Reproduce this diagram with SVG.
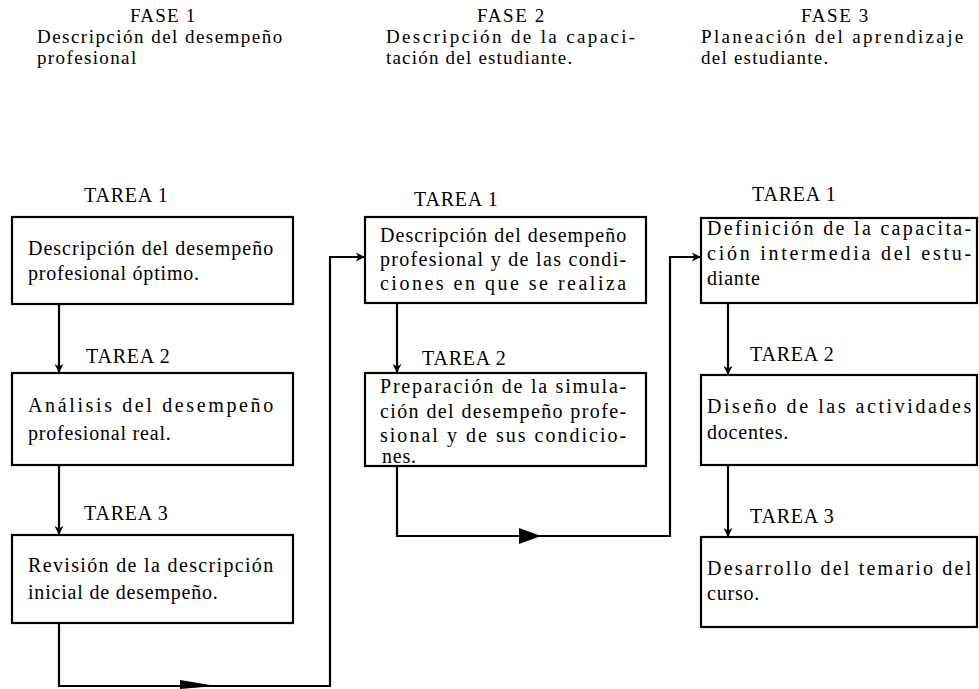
<svg xmlns="http://www.w3.org/2000/svg" width="979" height="689" viewBox="0 0 979 689">
<defs>
<style>
text{font-family:"Liberation Serif","DejaVu Serif","Times New Roman",serif;font-size:20px;fill:#000;letter-spacing:0.8px}
.hd{font-size:19px}
.box{fill:#fff;stroke:#000;stroke-width:2.2}
.ln{fill:none;stroke:#000;stroke-width:2.2}
.big{fill:#000;stroke:none}
</style>
<marker id="ah" viewBox="0 0 10 10" refX="9" refY="5" markerWidth="9" markerHeight="9" markerUnits="userSpaceOnUse" orient="auto">
<path d="M0,0 L10,5 L0,10 L3,5 Z" fill="#000"/>
</marker>
</defs>

<g id="headers">
<text class="hd" x="130" y="22" textLength="66" lengthAdjust="spacing">FASE 1</text>
<text class="hd" x="37" y="43" textLength="246" lengthAdjust="spacing">Descripción del desempeño</text>
<text class="hd" x="37" y="64" textLength="100" lengthAdjust="spacing">profesional</text>
<text class="hd" x="477" y="22" textLength="68" lengthAdjust="spacing">FASE 2</text>
<text class="hd" x="386" y="43" textLength="250" lengthAdjust="spacing">Descripción de la capaci-</text>
<text class="hd" x="386" y="64" textLength="187" lengthAdjust="spacing">tación del estudiante.</text>
<text class="hd" x="801" y="22" textLength="68" lengthAdjust="spacing">FASE 3</text>
<text class="hd" x="701" y="43" textLength="263" lengthAdjust="spacing">Planeación del aprendizaje</text>
<text class="hd" x="701" y="64" textLength="128" lengthAdjust="spacing">del estudiante.</text>
</g>

<g id="f1t1">
<text x="84" y="202">TAREA 1</text>
<rect class="box" x="12" y="217" width="281" height="87"/>
<text x="28" y="255" textLength="246" lengthAdjust="spacing">Descripción del desempeño</text>
<text x="28" y="280">profesional óptimo.</text>
</g>
<g id="f1t2">
<text x="86" y="363">TAREA 2</text>
<rect class="box" x="12" y="373" width="281" height="92"/>
<text x="28" y="412" textLength="246" lengthAdjust="spacing">Análisis del desempeño</text>
<text x="28" y="440">profesional real.</text>
</g>
<g id="f1t3">
<text x="84" y="520">TAREA 3</text>
<rect class="box" x="12" y="535" width="281" height="88"/>
<text x="28" y="572" textLength="246" lengthAdjust="spacing">Revisión de la descripción</text>
<text x="28" y="599">inicial de desempeño.</text>
</g>

<g id="f2t1">
<text x="414" y="206">TAREA 1</text>
<rect class="box" x="365" y="217" width="281" height="86"/>
<text x="380" y="242" textLength="247" lengthAdjust="spacing">Descripción del desempeño</text>
<text x="380" y="266" textLength="247" lengthAdjust="spacing">profesional y de las condi-</text>
<text x="380" y="290" textLength="247" lengthAdjust="spacing">ciones en que se realiza</text>
</g>
<g id="f2t2">
<text x="422" y="365">TAREA 2</text>
<rect class="box" x="365" y="373" width="281" height="93"/>
<text x="380" y="393" textLength="247" lengthAdjust="spacing">Preparación de la simula-</text>
<text x="380" y="418" textLength="247" lengthAdjust="spacing">ción del desempeño profe-</text>
<text x="380" y="442" textLength="247" lengthAdjust="spacing">sional y de sus condicio-</text>
<text x="382" y="463">nes.</text>
</g>

<g id="f3t1">
<text x="752" y="201">TAREA 1</text>
<rect class="box" x="701" y="218" width="276" height="85"/>
<text x="707" y="235" textLength="265" lengthAdjust="spacing">Definición de la capacita-</text>
<text x="707" y="260" textLength="265" lengthAdjust="spacing">ción intermedia del estu-</text>
<text x="707" y="285">diante</text>
</g>
<g id="f3t2">
<text x="750" y="361">TAREA 2</text>
<rect class="box" x="701" y="375" width="276" height="90"/>
<text x="707" y="413" textLength="265" lengthAdjust="spacing">Diseño de las actividades</text>
<text x="707" y="439">docentes.</text>
</g>
<g id="f3t3">
<text x="750" y="523">TAREA 3</text>
<rect class="box" x="701" y="537" width="276" height="90"/>
<text x="707" y="575" textLength="265" lengthAdjust="spacing">Desarrollo del temario del</text>
<text x="707" y="600">curso.</text>
</g>

<g id="connectors">
<line class="ln" x1="59" y1="304" x2="59" y2="372" marker-end="url(#ah)"/>
<line class="ln" x1="59" y1="465" x2="59" y2="534" marker-end="url(#ah)"/>
<polyline class="ln" points="59,623 59,686 330,686 330,257 364,257" marker-end="url(#ah)"/>
<path class="big" d="M180,680 L216,686 L180,689 Z"/>
<line class="ln" x1="397" y1="303" x2="397" y2="372" marker-end="url(#ah)"/>
<polyline class="ln" points="397,466 397,536 670,536 670,257 700,257" marker-end="url(#ah)"/>
<path class="big" d="M519,528 L541,536 L519,544 Z"/>
<line class="ln" x1="728" y1="303" x2="728" y2="374" marker-end="url(#ah)"/>
<line class="ln" x1="728" y1="465" x2="728" y2="536" marker-end="url(#ah)"/>
</g>
</svg>
